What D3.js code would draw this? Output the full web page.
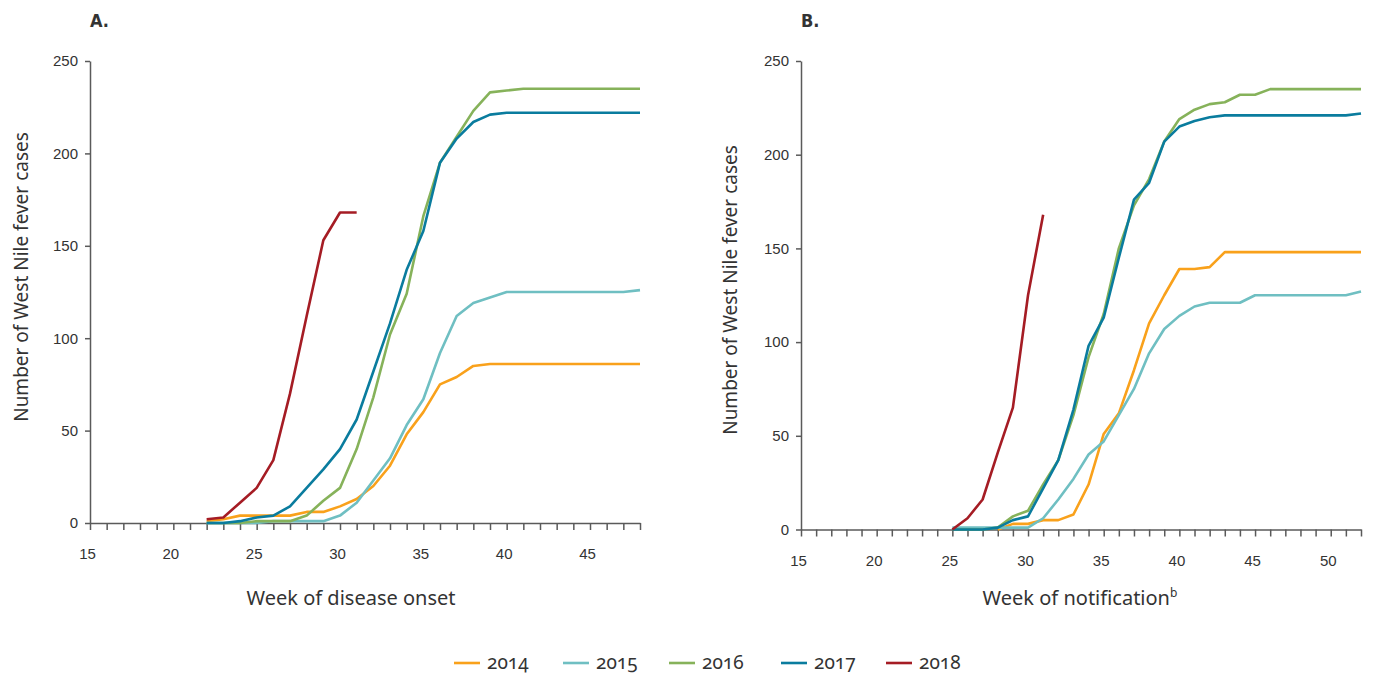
<!DOCTYPE html>
<html>
<head>
<meta charset="utf-8">
<script src="https://cdn.jsdelivr.net/npm/d3@7"></script>
<style>
  html, body { margin: 0; padding: 0; background: #fff; }
  svg { display: block; font-family: "Noto Sans", "Open Sans", sans-serif; }
  .tick text { font-size: 15px; fill: #333; font-feature-settings: "onum"; }
  .domain, .tick line { stroke: #5a5a5a; stroke-width: 1.5; }
</style>
</head>
<body>
<svg id="chart" width="1375" height="675"></svg>
<script>
// ---------- data ----------
const years = ["2014", "2015", "2016", "2017", "2018"];
const colors = ["#f9a11b", "#6fbfc2", "#86b25a", "#0a7c9e", "#a51c24"];

// Panel A: week of disease onset (start weeks and cumulative cases)
const startA = [22, 22, 22, 22, 22];
const onset2014 = [1,2,4,4,4,4,6,6,9,13,20,31,48,60,75,79,85,86,86,86,86,86,86,86,86,86,86];
const onset2015 = [0,0,0,0,1,1,1,1,4,11,23,35,53,67,92,112,119,122,125,125,125,125,125,125,125,125,126];
const onset2016 = [0,0,0,1,1,1,4,12,19,40,68,102,124,166,195,209,223,233,234,235,235,235,235,235,235,235,235];
const onset2017 = [0,0,1,3,4,9,19,29,40,56,82,108,137,158,195,208,217,221,222,222,222,222,222,222,222,222,222];
const onset2018 = [2,3,11,19,34,70,112,153,168,168];

// Panel B: week of notification
const startB = [28, 25, 25, 25, 25];
const notif2014 = [0,3,3,5,5,8,24,51,62,85,110,125,139,139,140,148,148,148,148,148,148,148,148,148,148];
const notif2015 = [1,1,1,1,1,1,6,16,27,40,47,61,75,94,107,114,119,121,121,121,125,125,125,125,125,125,125,127];
const notif2016 = [0,0,0,1,7,10,24,37,61,92,115,150,173,187,207,219,224,227,228,232,232,235,235,235,235,235,235,235];
const notif2017 = [0,0,0,1,5,7,22,37,64,98,113,145,176,185,207,215,218,220,221,221,221,221,221,221,221,221,221,222];
const notif2018 = [0,6,16,41,65,125,168];

const xTicksA = [15, 20, 25, 30, 35, 40, 45];
const xTicksB = [15, 20, 25, 30, 35, 40, 45, 50];
const yTicks = [0, 50, 100, 150, 200, 250];

// ---------- drawing ----------
const svg = d3.select("#chart");

function panel(cfg) {
  const x = d3.scaleLinear().domain(cfg.xDomain).range(cfg.xRange);
  const y = d3.scaleLinear().domain([0, 250]).range(cfg.yRange);
  const g = svg.append("g");

  // x axis
  const allWeeks = d3.range(cfg.xDomain[0], cfg.xDomain[1] + 1);
  const xAxis = g.append("g")
    .attr("transform", `translate(0,${cfg.yRange[0]})`)
    .call(d3.axisBottom(x).tickValues(allWeeks).tickSize(7).tickSizeOuter(0)
      .tickFormat(d => cfg.xTicks.includes(d) ? d : ""));
  xAxis.selectAll(".tick text").attr("dy", cfg.xLabelDy).attr("dx", -3);

  // y axis
  g.append("g")
    .attr("transform", `translate(${cfg.xRange[0]},0)`)
    .call(d3.axisLeft(y).tickValues(yTicks).tickSize(5).tickSizeOuter(0).tickPadding(7));

  // lines
  const line = d3.line().x(d => x(d[0])).y(d => y(d[1]));
  cfg.series.forEach((vals, i) => {
    const pts = vals.map((v, k) => [cfg.starts[i] + k, v]);
    g.append("path")
      .datum(pts)
      .attr("fill", "none")
      .attr("stroke", colors[i])
      .attr("stroke-width", 2.6)
      .attr("stroke-linejoin", "round")
      .attr("d", line);
  });

  // titles / labels
  g.append("text").attr("x", cfg.xRange[0]).attr("y", 27)
    .attr("font-family", "DejaVu Sans Condensed, DejaVu Sans, sans-serif")
    .attr("font-weight", "bold").attr("font-size", 18).attr("fill", "#333")
    .text(cfg.title);

  g.append("text")
    .attr("transform", `translate(${cfg.yLabelX},${cfg.yLabelY}) rotate(-90)`)
    .attr("text-anchor", "middle").attr("font-size", 19).attr("fill", "#333")
    .text("Number of West Nile fever cases");

  const xl = g.append("text")
    .attr("x", cfg.xLabelX).attr("y", cfg.xLabelBase)
    .attr("text-anchor", "middle").attr("font-size", 20).attr("fill", "#333")
    .text(cfg.xLabel);
  if (cfg.sup) {
    xl.append("tspan").attr("font-size", 12).attr("dy", -8).text(cfg.sup);
  }
}

panel({
  title: "A.",
  xDomain: [15, 48], xRange: [90, 640], yRange: [523, 61],
  xTicks: xTicksA, xLabelDy: "1.75em",
  starts: startA,
  series: [onset2014, onset2015, onset2016, onset2017, onset2018],
  yLabelX: 28, yLabelY: 277,
  xLabelX: 351, xLabelBase: 605, xLabel: "Week of disease onset"
});

panel({
  title: "B.",
  xDomain: [15, 52], xRange: [801, 1361], yRange: [529.5, 61],
  xTicks: xTicksB, xLabelDy: "1.75em",
  starts: startB,
  series: [notif2014, notif2015, notif2016, notif2017, notif2018],
  yLabelX: 737, yLabelY: 290,
  xLabelX: 1080, xLabelBase: 605, xLabel: "Week of notification", sup: "b"
});

// legend
const legendX = [454, 563, 669, 781, 886];
const leg = svg.append("g");
years.forEach((yr, i) => {
  leg.append("line")
    .attr("x1", legendX[i]).attr("x2", legendX[i] + 26)
    .attr("y1", 663).attr("y2", 663)
    .attr("stroke", colors[i]).attr("stroke-width", 2.6);
  leg.append("text")
    .attr("x", legendX[i] + 33).attr("y", 669)
    .attr("font-size", 19).attr("fill", "#333")
    .style("font-feature-settings", '"onum"')
    .text(yr);
});
</script>
</body>
</html>
